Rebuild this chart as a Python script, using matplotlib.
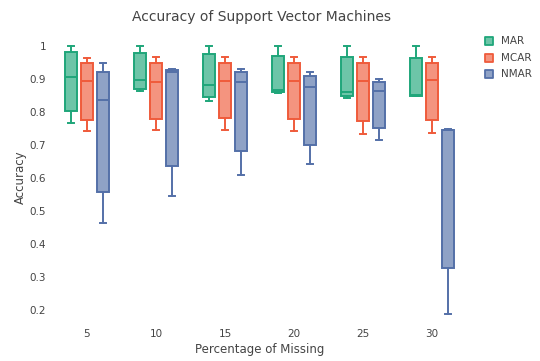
import numpy as np
import matplotlib
matplotlib.use("Agg")
import matplotlib.pyplot as plt

plt.rcParams["font.family"] = ["DejaVu Sans"]

# Percentage of missing values (categories)
categories = ["5", "10", "15", "20", "25", "30"]
series_names = ["MAR", "MCAR", "NMAR"]

# box statistics: lower whisker, q1, median, q3, upper whisker
mar_lo = [0.768, 0.862, 0.833, 0.858, 0.842, 0.848]
mar_q1 = [0.804, 0.870, 0.845, 0.860, 0.849, 0.849]
mar_med = [0.907, 0.898, 0.881, 0.866, 0.860, 0.851]
mar_q3 = [0.980, 0.977, 0.974, 0.970, 0.967, 0.964]
mar_hi = [1.0, 1.0, 1.0, 1.0, 1.0, 1.0]

mcar_lo = [0.741, 0.744, 0.746, 0.743, 0.734, 0.736]
mcar_q1 = [0.777, 0.780, 0.783, 0.780, 0.774, 0.777]
mcar_med = [0.893, 0.891, 0.894, 0.893, 0.894, 0.896]
mcar_q3 = [0.947, 0.947, 0.947, 0.947, 0.948, 0.949]
mcar_hi = [0.964, 0.966, 0.966, 0.966, 0.966, 0.966]

nmar_lo = [0.464, 0.545, 0.610, 0.641, 0.716, 0.189]
nmar_q1 = [0.557, 0.637, 0.681, 0.699, 0.752, 0.326]
nmar_med = [0.837, 0.920, 0.891, 0.876, 0.864, 0.744]
nmar_q3 = [0.920, 0.926, 0.920, 0.909, 0.891, 0.745]
nmar_hi = [0.947, 0.929, 0.929, 0.920, 0.900, 0.747]

stats_by_series = [
    (mar_lo, mar_q1, mar_med, mar_q3, mar_hi),
    (mcar_lo, mcar_q1, mcar_med, mcar_q3, mcar_hi),
    (nmar_lo, nmar_q1, nmar_med, nmar_q3, nmar_hi),
]
line_colors = ["#1fa67a", "#ef5b3b", "#5470a8"]
fill_alpha = 0.65

fig = plt.figure(figsize=(5.4, 3.61), dpi=100)
ax = fig.add_axes([52.5 / 540, 1 - 322 / 361, 414 / 540, (322 - 32) / 361])

x = np.arange(len(categories))
offsets = [-0.232, 0.0, 0.232]
box_w = 0.18
lw = 1.4

for s, (name, stats, col) in enumerate(zip(series_names, stats_by_series, line_colors)):
    lo, q1, med, q3, hi = stats
    bxstats = [
        {"whislo": lo[i], "q1": q1[i], "med": med[i], "q3": q3[i], "whishi": hi[i], "fliers": []}
        for i in range(len(categories))
    ]
    face = matplotlib.colors.to_rgba(col, fill_alpha)
    ax.bxp(bxstats, positions=x + offsets[s], widths=box_w, patch_artist=True,
           showfliers=False, manage_ticks=False,
           boxprops=dict(facecolor=face, edgecolor=col, linewidth=lw),
           medianprops=dict(color=col, linewidth=lw),
           whiskerprops=dict(color=col, linewidth=lw),
           capprops=dict(color=col, linewidth=lw),
           capwidths=box_w * 0.5)
    # legend entry
    ax.scatter([], [], marker="s", s=40, facecolor=face,
               edgecolor=col, linewidth=1.3, label=name)

ax.set_xlim(-0.5, len(categories) - 0.5)
ax.set_ylim(0.164, 1.042)
ax.set_xticks(x)
ax.set_xticklabels(categories)
ax.set_yticks([0.2, 0.3, 0.4, 0.5, 0.6, 0.7, 0.8, 0.9, 1.0])
ax.set_yticklabels(["0.2", "0.3", "0.4", "0.5", "0.6", "0.7", "0.8", "0.9", "1"])
for sp in ax.spines.values():
    sp.set_visible(False)
ax.tick_params(length=0, labelsize=7.5, colors="#444444")
ax.tick_params(axis="y", pad=4.5)
ax.tick_params(axis="x", pad=5)

ax.set_xlabel("Percentage of Missing", fontsize=8.5, color="#444444", labelpad=3)
ax.set_ylabel("Accuracy", fontsize=8.5, color="#444444", labelpad=2)
fig.text(262 / 540, 1 - 17 / 361, "Accuracy of Support Vector Machines",
         ha="center", va="center", fontsize=10, color="#444444")

fig.legend(loc="upper left", bbox_to_anchor=(479 / 540, 1 - 32 / 361), frameon=False,
           fontsize=7.5, labelcolor="#444444", handletextpad=0.5, labelspacing=0.62,
           borderaxespad=0, handlelength=1.2)

fig.savefig("out.png", dpi=100, facecolor="white")
